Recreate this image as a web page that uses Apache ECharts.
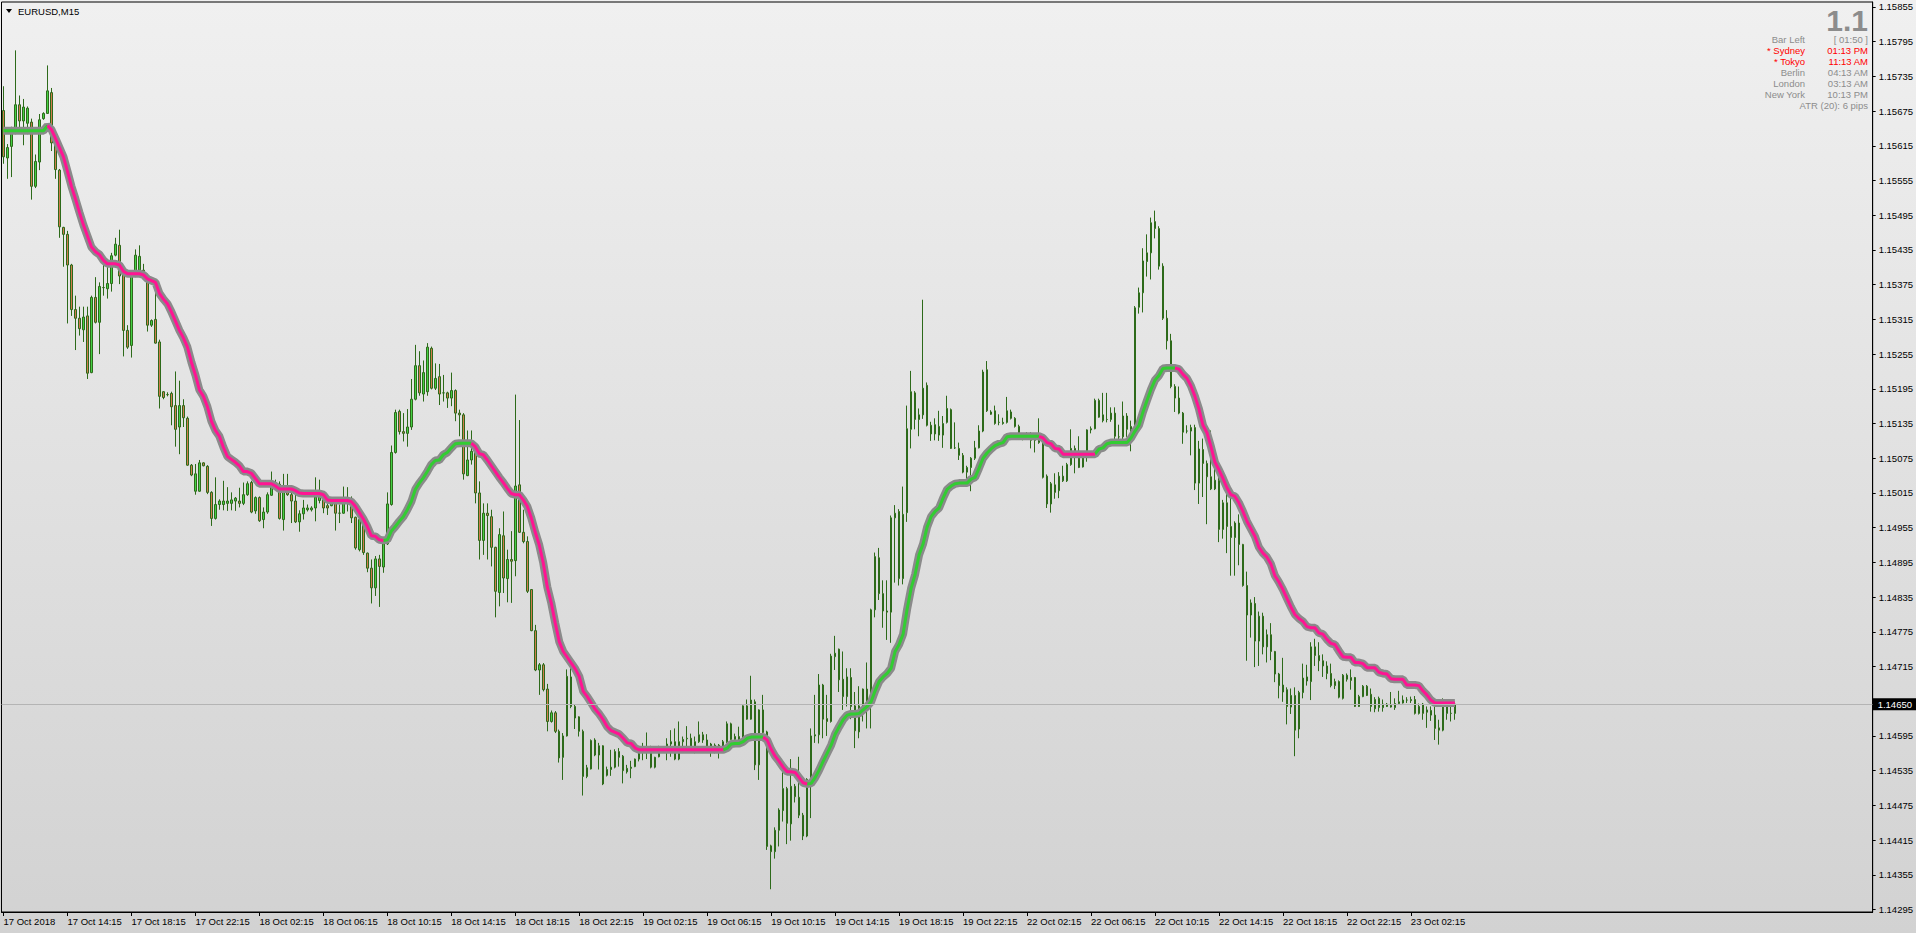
<!DOCTYPE html>
<html><head><meta charset="utf-8">
<script src="https://cdn.jsdelivr.net/npm/echarts@6/dist/echarts.min.js"></script>
<style>
html,body{margin:0;padding:0;width:1916px;height:933px;overflow:hidden;background:linear-gradient(#f0f0f0,#d2d2d2);}
#chart{width:1916px;height:933px;}
</style>
</head><body><div id="chart"></div>
<script>
const openP = [
1.15676,1.15594,1.15614,1.15638,1.15686,1.15658,1.15654,1.15656,1.15545,1.15587,1.15662,1.15671,1.15707,1.15620,1.15573,1.15474,
1.15462,1.15409,1.15332,1.15317,1.15297,1.15321,1.15223,1.15353,1.15310,1.15370,1.15368,1.15377,1.15426,1.15443,1.15392,1.15296,
1.15270,1.15394,1.15400,1.15400,1.15387,1.15305,1.15315,1.15276,1.15190,1.15185,1.15187,1.15166,1.15129,1.15166,1.15144,1.15063,
1.15018,1.15018,1.15067,1.15061,1.15016,1.14971,1.14995,1.14995,1.14997,1.14997,1.15001,1.15001,1.14997,1.15012,1.15033,1.14984,
1.15007,1.14969,1.14982,1.15011,1.15033,1.15030,1.14969,1.15016,1.15012,1.15001,1.14965,1.14979,1.14986,1.14986,1.14989,1.15002,
1.15003,1.14993,1.14993,1.15000,1.14980,1.14980,1.15004,1.15002,1.14973,1.14917,1.14970,1.14911,1.14885,1.14851,1.14901,1.14887,
1.14927,1.14995,1.15085,1.15156,1.15121,1.15118,1.15129,1.15177,1.15235,1.15186,1.15190,1.15265,1.15196,1.15216,1.15188,1.15188,
1.15179,1.15192,1.15153,1.15150,1.15045,1.15072,1.15088,1.15015,1.14933,1.14980,1.14974,1.14921,1.14843,1.14941,1.14867,1.14900,
1.14898,1.15029,1.14947,1.14931,1.14848,1.14777,1.14709,1.14718,1.14676,1.14620,1.14635,1.14603,1.14558,1.14595,1.14697,1.14646,
1.14628,1.14603,1.14525,1.14538,1.14588,1.14562,1.14578,1.14527,1.14537,1.14541,1.14568,1.14560,1.14533,1.14539,1.14542,1.14555,
1.14570,1.14575,1.14575,1.14541,1.14559,1.14574,1.14570,1.14581,1.14585,1.14555,1.14585,1.14590,1.14591,1.14572,1.14585,1.14597,
1.14588,1.14567,1.14579,1.14579,1.14569,1.14585,1.14616,1.14589,1.14594,1.14583,1.14647,1.14624,1.14654,1.14545,1.14640,1.14602,
1.14405,1.14395,1.14432,1.14466,1.14504,1.14443,1.14508,1.14489,1.14458,1.14422,1.14520,1.14595,1.14597,1.14683,1.14625,1.14620,
1.14732,1.14745,1.14693,1.14663,1.14696,1.14647,1.14602,1.14646,1.14676,1.14654,1.14813,1.14903,1.14841,1.14811,1.14809,1.14972,
1.14983,1.14867,1.14981,1.15125,1.15188,1.15142,1.15150,1.15201,1.15132,1.15117,1.15130,1.15115,1.15137,1.15159,1.15093,1.15092,
1.15080,1.15051,1.15059,1.15075,1.15093,1.15122,1.15228,1.15155,1.15157,1.15137,1.15135,1.15137,1.15155,1.15144,1.15130,1.15108,
1.15110,1.15117,1.15106,1.15108,1.15102,1.15044,1.14996,1.15029,1.15019,1.15044,1.15036,1.15064,1.15092,1.15087,1.15060,1.15080,
1.15124,1.15126,1.15175,1.15140,1.15142,1.15142,1.15153,1.15112,1.15112,1.15148,1.15125,1.15128,1.15336,1.15361,1.15415,1.15430,
1.15484,1.15472,1.15407,1.15317,1.15278,1.15199,1.15179,1.15153,1.15122,1.15122,1.15128,1.15032,1.15090,1.15066,1.15043,1.15022,
1.15037,1.14952,1.14998,1.14957,1.14938,1.14963,1.14926,1.14855,1.14804,1.14824,1.14759,1.14802,1.14749,1.14770,1.14741,1.14702,
1.14683,1.14675,1.14645,1.14665,1.14607,1.14670,1.14690,1.14689,1.14749,1.14734,1.14725,1.14716,1.14703,1.14689,1.14662,1.14660,
1.14693,1.14696,1.14696,1.14646,1.14663,1.14681,1.14667,1.14642,1.14644,1.14644,1.14646,1.14648,1.14644,1.14651,1.14652,1.14657,
1.14656,1.14658,1.14634,1.14650,1.14640,1.14631,1.14631,1.14609,1.14605,1.14634,1.14634,1.14634
];
const highP = [
1.15718,1.15618,1.15648,1.15780,1.15702,1.15696,1.15683,1.15662,1.15600,1.15670,1.15673,1.15754,1.15715,1.15638,1.15575,1.15475,
1.15468,1.15411,1.15356,1.15337,1.15337,1.15337,1.15356,1.15388,1.15379,1.15420,1.15415,1.15430,1.15456,1.15470,1.15398,1.15305,
1.15396,1.15436,1.15443,1.15411,1.15394,1.15315,1.15372,1.15280,1.15191,1.15189,1.15190,1.15225,1.15209,1.15177,1.15147,1.15065,
1.15065,1.15072,1.15068,1.15063,1.15018,1.15042,1.15004,1.15036,1.15025,1.15016,1.15008,1.15024,1.15033,1.15035,1.15036,1.15009,
1.15009,1.14990,1.15016,1.15052,1.15038,1.15035,1.15048,1.15048,1.15022,1.15022,1.14985,1.15003,1.14995,1.14992,1.15042,1.15038,
1.15012,1.14997,1.15004,1.15006,1.14995,1.15026,1.15025,1.15009,1.14974,1.14972,1.14972,1.14912,1.14900,1.14906,1.14908,1.14934,
1.15016,1.15097,1.15159,1.15159,1.15153,1.15160,1.15212,1.15271,1.15260,1.15244,1.15274,1.15268,1.15239,1.15238,1.15219,1.15190,
1.15223,1.15194,1.15159,1.15153,1.15123,1.15123,1.15093,1.15035,1.14997,1.14997,1.14986,1.14922,1.14954,1.14983,1.14917,1.14949,
1.15185,1.15141,1.14986,1.14940,1.14849,1.14787,1.14721,1.14721,1.14685,1.14639,1.14638,1.14606,1.14600,1.14710,1.14712,1.14649,
1.14629,1.14606,1.14545,1.14589,1.14591,1.14583,1.14579,1.14542,1.14571,1.14572,1.14574,1.14562,1.14545,1.14552,1.14556,1.14576,
1.14583,1.14601,1.14578,1.14559,1.14578,1.14576,1.14591,1.14605,1.14608,1.14620,1.14594,1.14612,1.14599,1.14594,1.14620,1.14602,
1.14598,1.14583,1.14582,1.14581,1.14588,1.14620,1.14618,1.14599,1.14611,1.14648,1.14658,1.14699,1.14658,1.14641,1.14666,1.14604,
1.14407,1.14437,1.14470,1.14532,1.14507,1.14555,1.14512,1.14559,1.14462,1.14522,1.14608,1.14666,1.14702,1.14685,1.14666,1.14737,
1.14768,1.14746,1.14741,1.14712,1.14712,1.14671,1.14681,1.14677,1.14722,1.14815,1.14912,1.14920,1.14864,1.14864,1.14976,1.14994,
1.14987,1.15026,1.15166,1.15226,1.15191,1.15161,1.15349,1.15206,1.15138,1.15144,1.15157,1.15148,1.15183,1.15161,1.15137,1.15102,
1.15084,1.15062,1.15077,1.15105,1.15132,1.15228,1.15243,1.15158,1.15166,1.15151,1.15145,1.15181,1.15159,1.15146,1.15133,1.15118,
1.15120,1.15120,1.15115,1.15144,1.15105,1.15047,1.15034,1.15049,1.15051,1.15062,1.15067,1.15125,1.15097,1.15113,1.15085,1.15125,
1.15130,1.15178,1.15178,1.15188,1.15188,1.15163,1.15163,1.15133,1.15173,1.15153,1.15140,1.15338,1.15370,1.15438,1.15462,1.15491,
1.15503,1.15476,1.15412,1.15331,1.15290,1.15203,1.15199,1.15155,1.15132,1.15133,1.15133,1.15105,1.15109,1.15071,1.15123,1.15061,
1.15046,1.15003,1.15034,1.15009,1.14966,1.14978,1.14927,1.14879,1.14831,1.14835,1.14810,1.14808,1.14779,1.14790,1.14742,1.14704,
1.14730,1.14679,1.14677,1.14679,1.14673,1.14720,1.14718,1.14757,1.14763,1.14757,1.14736,1.14724,1.14720,1.14694,1.14691,1.14702,
1.14703,1.14710,1.14697,1.14666,1.14683,1.14683,1.14677,1.14662,1.14663,1.14658,1.14652,1.14671,1.14660,1.14673,1.14665,1.14662,
1.14663,1.14664,1.14651,1.14652,1.14646,1.14646,1.14646,1.14623,1.14660,1.14657,1.14657,1.14654
];
const lowP = [
1.15584,1.15558,1.15561,1.15635,1.15641,1.15616,1.15635,1.15522,1.15542,1.15573,1.15660,1.15670,1.15606,1.15558,1.15456,1.15406,
1.15308,1.15321,1.15262,1.15287,1.15276,1.15212,1.15222,1.15308,1.15255,1.15356,1.15351,1.15363,1.15424,1.15376,1.15251,1.15264,
1.15249,1.15388,1.15388,1.15385,1.15294,1.15302,1.15273,1.15161,1.15177,1.15182,1.15132,1.15095,1.15082,1.15129,1.15062,1.15044,
1.15012,1.15017,1.15061,1.15013,1.14958,1.14969,1.14986,1.14985,1.14984,1.14985,1.14984,1.14990,1.14994,1.15010,1.14980,1.14979,
1.14965,1.14954,1.14979,1.15010,1.15026,1.14969,1.14950,1.15010,1.14963,1.14963,1.14948,1.14969,1.14983,1.14983,1.14966,1.14997,
1.14980,1.14977,1.14992,1.14950,1.14963,1.14979,1.14983,1.14963,1.14917,1.14914,1.14908,1.14878,1.14824,1.14837,1.14818,1.14877,
1.14925,1.14993,1.15083,1.15116,1.15104,1.15095,1.15124,1.15175,1.15183,1.15173,1.15183,1.15194,1.15193,1.15167,1.15173,1.15162,
1.15165,1.15139,1.15113,1.15038,1.15044,1.15064,1.14997,1.14900,1.14908,1.14900,1.14888,1.14800,1.14819,1.14842,1.14826,1.14825,
1.14871,1.14946,1.14928,1.14842,1.14776,1.14707,1.14666,1.14672,1.14603,1.14618,1.14600,1.14549,1.14519,1.14594,1.14643,1.14607,
1.14594,1.14492,1.14522,1.14537,1.14560,1.14537,1.14510,1.14525,1.14526,1.14539,1.14542,1.14513,1.14530,1.14522,1.14541,1.14551,
1.14553,1.14555,1.14539,1.14539,1.14558,1.14568,1.14553,1.14559,1.14553,1.14553,1.14570,1.14568,1.14571,1.14565,1.14583,1.14583,
1.14566,1.14559,1.14565,1.14556,1.14566,1.14583,1.14588,1.14585,1.14581,1.14582,1.14623,1.14623,1.14536,1.14519,1.14599,1.14398,
1.14330,1.14383,1.14404,1.14447,1.14408,1.14414,1.14480,1.14453,1.14415,1.14420,1.14453,1.14583,1.14582,1.14591,1.14595,1.14618,
1.14709,1.14671,1.14640,1.14646,1.14624,1.14574,1.14591,1.14620,1.14608,1.14608,1.14800,1.14830,1.14782,1.14761,1.14756,1.14860,
1.14855,1.14857,1.14965,1.15092,1.15125,1.15113,1.15143,1.15130,1.15105,1.15106,1.15105,1.15093,1.15135,1.15091,1.15091,1.15072,
1.15049,1.15034,1.15018,1.15072,1.15092,1.15120,1.15155,1.15150,1.15133,1.15132,1.15133,1.15135,1.15142,1.15128,1.15110,1.15106,
1.15108,1.15092,1.15085,1.15100,1.15040,1.14989,1.14981,1.15005,1.15006,1.15034,1.15034,1.15062,1.15049,1.15058,1.15059,1.15069,
1.15118,1.15125,1.15145,1.15137,1.15137,1.15138,1.15106,1.15106,1.15105,1.15112,1.15087,1.15115,1.15325,1.15327,1.15389,1.15384,
1.15455,1.15401,1.15314,1.15263,1.15196,1.15155,1.15151,1.15100,1.15118,1.15080,1.15020,1.14996,1.15008,1.14961,1.15020,1.15020,
1.14930,1.14936,1.14911,1.14872,1.14872,1.14890,1.14853,1.14725,1.14765,1.14714,1.14716,1.14736,1.14722,1.14726,1.14688,1.14660,
1.14654,1.14615,1.14633,1.14560,1.14591,1.14660,1.14682,1.14657,1.14716,1.14707,1.14697,1.14693,1.14679,1.14676,1.14660,1.14658,
1.14689,1.14675,1.14645,1.14645,1.14662,1.14664,1.14637,1.14636,1.14637,1.14637,1.14645,1.14644,1.14640,1.14650,1.14651,1.14652,
1.14652,1.14632,1.14632,1.14623,1.14609,1.14621,1.14588,1.14580,1.14603,1.14623,1.14620,1.14623
];
const closeP = [
1.15596,1.15612,1.15638,1.15686,1.15658,1.15682,1.15680,1.15545,1.15588,1.15660,1.15671,1.15710,1.15620,1.15574,1.15475,1.15462,
1.15409,1.15332,1.15317,1.15299,1.15319,1.15222,1.15353,1.15310,1.15372,1.15370,1.15377,1.15425,1.15445,1.15390,1.15296,1.15267,
1.15394,1.15426,1.15424,1.15387,1.15305,1.15313,1.15274,1.15182,1.15180,1.15185,1.15164,1.15125,1.15166,1.15145,1.15063,1.15046,
1.15048,1.15067,1.15062,1.15016,1.14971,1.14995,1.15001,1.15001,1.15001,1.15003,1.15006,1.14997,1.15012,1.15031,1.14982,1.15007,
1.14967,1.14982,1.15012,1.15033,1.15030,1.14971,1.15017,1.15012,1.15001,1.14965,1.14979,1.14989,1.14989,1.14989,1.15008,1.15008,
1.14989,1.14989,1.15000,1.14980,1.14980,1.15004,1.15002,1.14972,1.14920,1.14969,1.14912,1.14885,1.14851,1.14901,1.14888,1.14927,
1.14996,1.15085,1.15154,1.15121,1.15118,1.15129,1.15177,1.15235,1.15188,1.15223,1.15267,1.15196,1.15213,1.15186,1.15188,1.15179,
1.15192,1.15153,1.15150,1.15048,1.15072,1.15087,1.15015,1.14933,1.14980,1.14976,1.14921,1.14845,1.14943,1.14868,1.14900,1.14897,
1.15027,1.14947,1.14931,1.14845,1.14777,1.14709,1.14718,1.14675,1.14620,1.14635,1.14603,1.14557,1.14595,1.14698,1.14646,1.14626,
1.14603,1.14525,1.14540,1.14587,1.14562,1.14578,1.14512,1.14537,1.14541,1.14568,1.14558,1.14535,1.14539,1.14541,1.14555,1.14568,
1.14575,1.14573,1.14541,1.14558,1.14575,1.14570,1.14581,1.14585,1.14555,1.14585,1.14589,1.14591,1.14572,1.14585,1.14597,1.14588,
1.14568,1.14581,1.14575,1.14568,1.14585,1.14616,1.14589,1.14594,1.14583,1.14647,1.14624,1.14657,1.14545,1.14640,1.14601,1.14404,
1.14395,1.14432,1.14467,1.14504,1.14444,1.14508,1.14490,1.14458,1.14422,1.14520,1.14595,1.14597,1.14683,1.14624,1.14620,1.14733,
1.14738,1.14692,1.14663,1.14697,1.14646,1.14604,1.14647,1.14676,1.14656,1.14813,1.14905,1.14841,1.14811,1.14809,1.14972,1.14980,
1.14867,1.14978,1.15126,1.15190,1.15142,1.15150,1.15196,1.15132,1.15117,1.15133,1.15115,1.15135,1.15161,1.15092,1.15093,1.15080,
1.15051,1.15059,1.15075,1.15093,1.15122,1.15224,1.15157,1.15151,1.15135,1.15137,1.15137,1.15157,1.15144,1.15130,1.15117,1.15117,
1.15117,1.15106,1.15106,1.15102,1.15042,1.14996,1.15031,1.15016,1.15044,1.15036,1.15064,1.15092,1.15087,1.15059,1.15080,1.15124,
1.15126,1.15175,1.15146,1.15150,1.15142,1.15153,1.15113,1.15112,1.15148,1.15125,1.15130,1.15335,1.15361,1.15416,1.15430,1.15482,
1.15472,1.15407,1.15317,1.15278,1.15199,1.15179,1.15153,1.15120,1.15122,1.15128,1.15032,1.15091,1.15066,1.15043,1.15022,1.15037,
1.14952,1.14998,1.14957,1.14938,1.14963,1.14926,1.14855,1.14804,1.14825,1.14759,1.14802,1.14749,1.14770,1.14741,1.14702,1.14682,
1.14671,1.14646,1.14665,1.14605,1.14670,1.14695,1.14697,1.14749,1.14734,1.14725,1.14716,1.14703,1.14682,1.14682,1.14689,1.14700,
1.14700,1.14691,1.14646,1.14663,1.14681,1.14665,1.14646,1.14658,1.14660,1.14650,1.14650,1.14645,1.14651,1.14654,1.14657,1.14657,
1.14658,1.14634,1.14646,1.14634,1.14636,1.14639,1.14608,1.14605,1.14645,1.14646,1.14634,1.14650
];
const maLine = [
1.15641,1.15641,1.15641,1.15641,1.15641,1.15641,1.15641,1.15641,1.15641,1.15641,1.15641,1.15650,1.15643,1.15628,1.15612,1.15596,
1.15571,1.15545,1.15523,1.15500,1.15478,1.15459,1.15440,1.15432,1.15427,1.15417,1.15411,1.15411,1.15411,1.15409,1.15398,1.15394,
1.15394,1.15394,1.15394,1.15392,1.15385,1.15382,1.15379,1.15360,1.15350,1.15342,1.15328,1.15312,1.15296,1.15283,1.15267,1.15241,
1.15219,1.15193,1.15182,1.15164,1.15139,1.15123,1.15113,1.15094,1.15078,1.15073,1.15068,1.15062,1.15052,1.15052,1.15049,1.15040,
1.15031,1.15031,1.15031,1.15031,1.15027,1.15022,1.15022,1.15022,1.15022,1.15019,1.15015,1.15014,1.15014,1.15014,1.15014,1.15014,
1.15012,1.15003,1.15002,1.15002,1.15002,1.15002,1.15002,1.15000,1.14992,1.14981,1.14970,1.14957,1.14941,1.14940,1.14934,1.14933,
1.14934,1.14949,1.14957,1.14966,1.14974,1.14986,1.15000,1.15021,1.15032,1.15041,1.15052,1.15064,1.15071,1.15072,1.15081,1.15085,
1.15093,1.15100,1.15101,1.15101,1.15101,1.15101,1.15095,1.15083,1.15081,1.15072,1.15062,1.15052,1.15042,1.15033,1.15023,1.15014,
1.15012,1.15012,1.15003,1.14992,1.14972,1.14947,1.14925,1.14894,1.14853,1.14825,1.14790,1.14758,1.14741,1.14731,1.14721,1.14711,
1.14698,1.14672,1.14663,1.14652,1.14641,1.14633,1.14623,1.14611,1.14604,1.14601,1.14598,1.14591,1.14583,1.14582,1.14574,1.14571,
1.14571,1.14571,1.14571,1.14571,1.14571,1.14571,1.14571,1.14571,1.14571,1.14571,1.14571,1.14571,1.14571,1.14571,1.14571,1.14571,
1.14571,1.14571,1.14571,1.14571,1.14571,1.14574,1.14581,1.14582,1.14582,1.14585,1.14591,1.14593,1.14593,1.14593,1.14593,1.14588,
1.14572,1.14560,1.14551,1.14541,1.14533,1.14533,1.14532,1.14523,1.14514,1.14512,1.14513,1.14523,1.14536,1.14551,1.14565,1.14579,
1.14598,1.14611,1.14623,1.14631,1.14633,1.14633,1.14634,1.14640,1.14646,1.14654,1.14673,1.14689,1.14697,1.14703,1.14712,1.14741,
1.14753,1.14771,1.14814,1.14850,1.14874,1.14908,1.14927,1.14956,1.14974,1.14983,1.14989,1.15006,1.15021,1.15027,1.15031,1.15032,
1.15032,1.15032,1.15039,1.15042,1.15058,1.15075,1.15084,1.15091,1.15097,1.15100,1.15102,1.15112,1.15113,1.15113,1.15113,1.15113,
1.15113,1.15113,1.15113,1.15113,1.15110,1.15102,1.15100,1.15092,1.15091,1.15082,1.15082,1.15082,1.15082,1.15082,1.15082,1.15082,
1.15082,1.15082,1.15091,1.15093,1.15100,1.15102,1.15102,1.15102,1.15102,1.15102,1.15110,1.15122,1.15132,1.15155,1.15175,1.15194,
1.15210,1.15218,1.15230,1.15231,1.15231,1.15231,1.15229,1.15220,1.15213,1.15200,1.15182,1.15160,1.15132,1.15119,1.15095,1.15068,
1.15055,1.15040,1.15024,1.15012,1.15009,1.14998,1.14983,1.14966,1.14953,1.14940,1.14921,1.14911,1.14904,1.14892,1.14872,1.14861,
1.14848,1.14833,1.14818,1.14805,1.14798,1.14793,1.14784,1.14782,1.14782,1.14773,1.14771,1.14762,1.14755,1.14753,1.14742,1.14732,
1.14731,1.14731,1.14722,1.14722,1.14720,1.14713,1.14713,1.14713,1.14705,1.14703,1.14702,1.14694,1.14693,1.14693,1.14693,1.14683,
1.14683,1.14683,1.14682,1.14673,1.14666,1.14657,1.14652,1.14652,1.14652,1.14652,1.14652,1.14652
];
// trend colour segments of the indicator line: [first bar, last bar, direction]
const trendSegments = [[0,11,'up'],[11,95,'down'],[95,117,'up'],[117,180,'down'],[180,190,'up'],[190,201,'down'],[201,259,'up'],[259,273,'down'],[273,293,'up'],[293,363,'down']];
const xTickLabels = ['17 Oct 2018','17 Oct 14:15','17 Oct 18:15','17 Oct 22:15','18 Oct 02:15','18 Oct 06:15','18 Oct 10:15','18 Oct 14:15','18 Oct 18:15','18 Oct 22:15','19 Oct 02:15','19 Oct 06:15','19 Oct 10:15','19 Oct 14:15','19 Oct 18:15','19 Oct 22:15','22 Oct 02:15','22 Oct 06:15','22 Oct 10:15','22 Oct 14:15','22 Oct 18:15','22 Oct 22:15','23 Oct 02:15'];
const yTicks = [1.14295,1.14355,1.14415,1.14475,1.14535,1.14595,1.14655,1.14715,1.14775,1.14835,1.14895,1.14955,1.15015,1.15075,1.15135,1.15195,1.15255,1.15315,1.15375,1.15435,1.15495,1.15555,1.15615,1.15675,1.15735,1.15795,1.15855];
const currentPrice = 1.14650;
const barsPerLabel = 16;
const totalSlots = 468; // bars plus empty chart shift to the right

const FONT = 'Liberation Sans';
const nBars = openP.length;
const categories = Array.from({length: totalSlots}, (_, i) => String(i));
const candleData = openP.map((o, i) => [o, closeP[i], lowP[i], highP[i]]);
const upLine = maLine.map(() => '-');
const downLine = maLine.map(() => '-');
trendSegments.forEach(([s, e, d]) => {
  for (let i = s; i <= e; i++) (d === 'up' ? upLine : downLine)[i] = maLine[i];
});
const showTick = (idx) => idx % barsPerLabel === 0 && idx < nBars;

const chart = echarts.init(document.getElementById('chart'), null, {renderer: 'svg', width: 1916, height: 933});
const gray = '#8c8c8c';
function txt(text, x, y, color, align, font) {
  return {type: 'text', x: x, y: y, silent: true,
    style: {text: text, fill: color, textAlign: align || 'right', textVerticalAlign: 'middle', font: font || ('9.5px "' + FONT + '"')}};
}
chart.setOption({
  animation: false,
  backgroundColor: 'transparent',
  grid: {left: 1.5, top: 2, width: 1872, height: 910, show: true, borderColor: '#000', borderWidth: 1, backgroundColor: 'transparent', containLabel: false},
  xAxis: {
    type: 'category', data: categories, boundaryGap: true,
    axisLine: {show: true, lineStyle: {color: '#000', width: 1}},
    axisTick: {show: true, alignWithLabel: true, interval: showTick, length: 4, lineStyle: {color: '#000'}},
    axisLabel: {show: true, interval: showTick, formatter: (v, i) => xTickLabels[i / barsPerLabel] || '',
      align: 'left', margin: 4, fontSize: 9.5, fontFamily: FONT, color: '#000'},
    splitLine: {show: false}
  },
  yAxis: {
    type: 'value', position: 'right', scale: true, min: 1.142907, max: 1.158636,
    axisLine: {show: true, lineStyle: {color: '#000', width: 1}},
    axisTick: {show: true, length: 3, customValues: yTicks, lineStyle: {color: '#000'}},
    axisLabel: {show: true, customValues: yTicks, formatter: v => v.toFixed(5), margin: 6, fontSize: 9.5, fontFamily: FONT, color: '#000'},
    splitLine: {show: false}
  },
  series: [
    {type: 'line', data: [], z: 1, silent: true, symbol: 'none',
     markLine: {silent: true, symbol: ['none', 'none'], precision: 5, animation: false,
       lineStyle: {color: '#b4b4b4', width: 1, type: 'solid'},
       label: {show: true, position: 'end', distance: 0, formatter: currentPrice.toFixed(5), color: '#fff', backgroundColor: '#000',
               padding: [1, 6, 1, 5], fontSize: 9.5, fontFamily: FONT},
       data: [{yAxis: currentPrice}]}
    },
    {type: 'candlestick', data: candleData, barWidth: 2, z: 2,
     itemStyle: {color: '#44d044', color0: '#d07c4c', borderColor: '#2d6a1a', borderColor0: '#2d6a1a', borderColorDoji: '#2d6a1a', borderWidth: 1}
    },
    {type: 'line', data: maLine, symbol: 'none', z: 3, lineStyle: {color: '#8a8a8a', width: 8}, silent: true},
    {type: 'line', data: upLine, symbol: 'none', z: 4, connectNulls: false, lineStyle: {color: '#32cd32', width: 3}, silent: true},
    {type: 'line', data: downLine, symbol: 'none', z: 4, connectNulls: false, lineStyle: {color: '#ff1493', width: 3}, silent: true}
  ],
  graphic: [
    {type: 'polygon', shape: {points: [[6, 9], [12, 9], [9, 13]]}, style: {fill: '#000'}, silent: true},
    txt('EURUSD,M15', 18, 11, '#000', 'left'),
    txt('1.1', 1868, 20, gray, 'right', 'bold 30px "' + FONT + '"'),
    txt('Bar Left', 1805, 39, gray), txt('[ 01:50 ]', 1868, 39, gray),
    txt('* Sydney', 1805, 50, '#ff0000'), txt('01:13 PM', 1868, 50, '#ff0000'),
    txt('* Tokyo', 1805, 61, '#ff0000'), txt('11:13 AM', 1868, 61, '#ff0000'),
    txt('Berlin', 1805, 72, gray), txt('04:13 AM', 1868, 72, gray),
    txt('London', 1805, 83, gray), txt('03:13 AM', 1868, 83, gray),
    txt('New York', 1805, 94, gray), txt('10:13 PM', 1868, 94, gray),
    txt('ATR (20): 6 pips', 1868, 105, gray)
  ]
});
</script></body></html>
